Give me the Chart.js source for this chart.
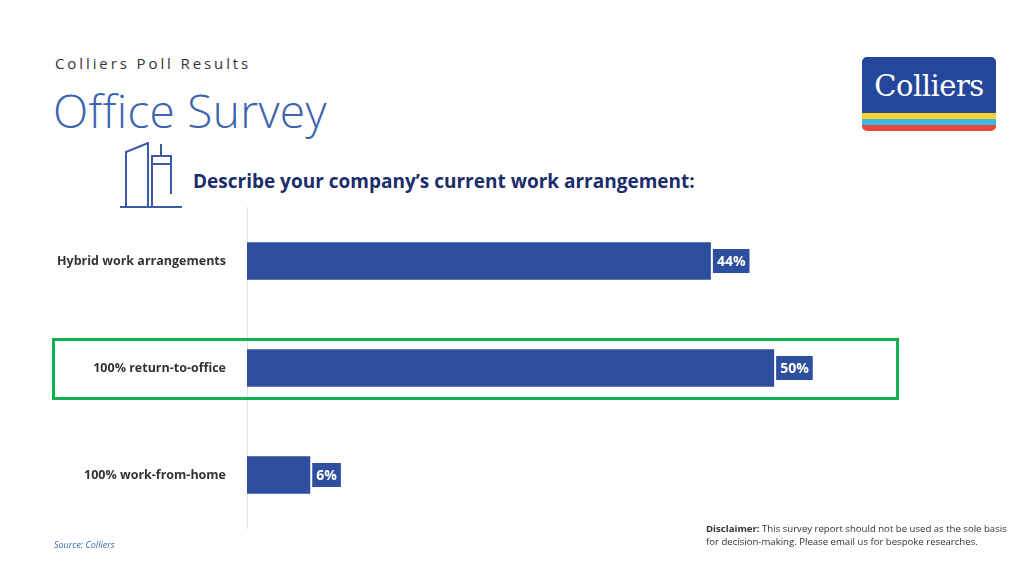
<!DOCTYPE html>
<html><head><meta charset="utf-8">
<script src="https://cdn.jsdelivr.net/npm/chart.js@4"></script>
<style>
body{margin:0;width:1024px;height:576px;background:#fff;font-family:"Open Sans",sans-serif;position:relative;overflow:hidden}
.abs{position:absolute}
#sub{left:55px;top:53px;font-size:15px;letter-spacing:2.9px;color:#333}
#title{left:53px;top:79px;font-size:46px;color:#3d63ad;font-weight:300;letter-spacing:0.3px}
#q{left:193px;top:168px;font-size:19px;font-weight:700;color:#1b2d6b}
#logo{left:862px;top:57px;width:134px;height:74px;border-radius:5px;overflow:hidden}
#logo .b{background:#25479b;height:56px;color:#fff;font-family:"DejaVu Serif",serif;font-size:29px;text-align:center;line-height:58px;letter-spacing:-0.5px}
#src{left:54px;top:538px;font-size:9px;font-style:italic;color:#3d63ad}
#dis{left:706px;top:522px;font-size:9.6px;color:#333;line-height:13px;white-space:nowrap}
#box{left:52px;top:338px;width:841px;height:56px;border:3px solid #12b050}
#c{left:0;top:187px}
</style></head><body>
<div class="abs" id="sub">Colliers Poll Results</div>
<div class="abs" id="title">Office Survey</div>
<svg class="abs" style="left:118px;top:142px" width="70" height="70" fill="none" stroke="#3d5aa8" stroke-width="2">
<path d="M2 65H64M8 64V10L30 1V64M34 64V14H53V52M34 22H53M43 14V2"/></svg>
<div class="abs" id="q">Describe your company’s current work arrangement:</div>
<div class="abs" id="logo"><div class="b">Colliers</div><div style="height:6px;background:#f9d42a"></div><div style="height:6px;background:#3fb7e5"></div><div style="height:6px;background:#e8473a"></div></div>
<canvas class="abs" id="c" width="1024" height="362"></canvas>
<div class="abs" id="box"></div>
<div class="abs" id="src">Source: Colliers</div>
<div class="abs" id="dis"><b>Disclaimer:</b> This survey report should not be used as the sole basis<br>for decision-making. Please email us for bespoke researches.</div>
<script>
const categories = ['Hybrid work arrangements', '100% return-to-office', '100% work-from-home'];
const values = [44, 50, 6];

const valueLabels = {
    id: 'valueLabels',
    afterDatasetsDraw(chart) {
        const ctx = chart.ctx;
        chart.getDatasetMeta(0).data.forEach((bar, i) => {
            const txt = values[i] + '%';
            ctx.font = 'bold 14px "Open Sans"';
            const w = ctx.measureText(txt).width + 8;
            ctx.fillStyle = '#2d4f9e';
            ctx.fillRect(bar.x + 2, bar.y - 12, w, 24);
            ctx.fillStyle = '#fff';
            ctx.textBaseline = 'middle';
            ctx.fillText(txt, bar.x + 6, bar.y + 1);
        });
    }
};

new Chart(document.getElementById('c'), {
    type: 'bar',
    data: {
        labels: categories,
        datasets: [{ data: values, backgroundColor: '#2d4f9e', barPercentage: 0.35, categoryPercentage: 1 }]
    },
    options: {
        indexAxis: 'y',
        responsive: false,
        animation: false,
        layout: { padding: { top: 5, bottom: 4, left: 0, right: 0 } },
        plugins: { legend: { display: false }, tooltip: { enabled: false } },
        scales: {
            x: { min: 0, max: 73.7, display: false },
            y: {
                afterFit(s) { s.width = 247; },
                grid: { display: false },
                border: { color: '#e2e2e2', width: 1 },
                ticks: { color: '#333', padding: 13, font: { family: 'Open Sans', size: 12.5, weight: 'bold' } }
            }
        }
    },
    plugins: [valueLabels]
});
</script>
</body></html>
